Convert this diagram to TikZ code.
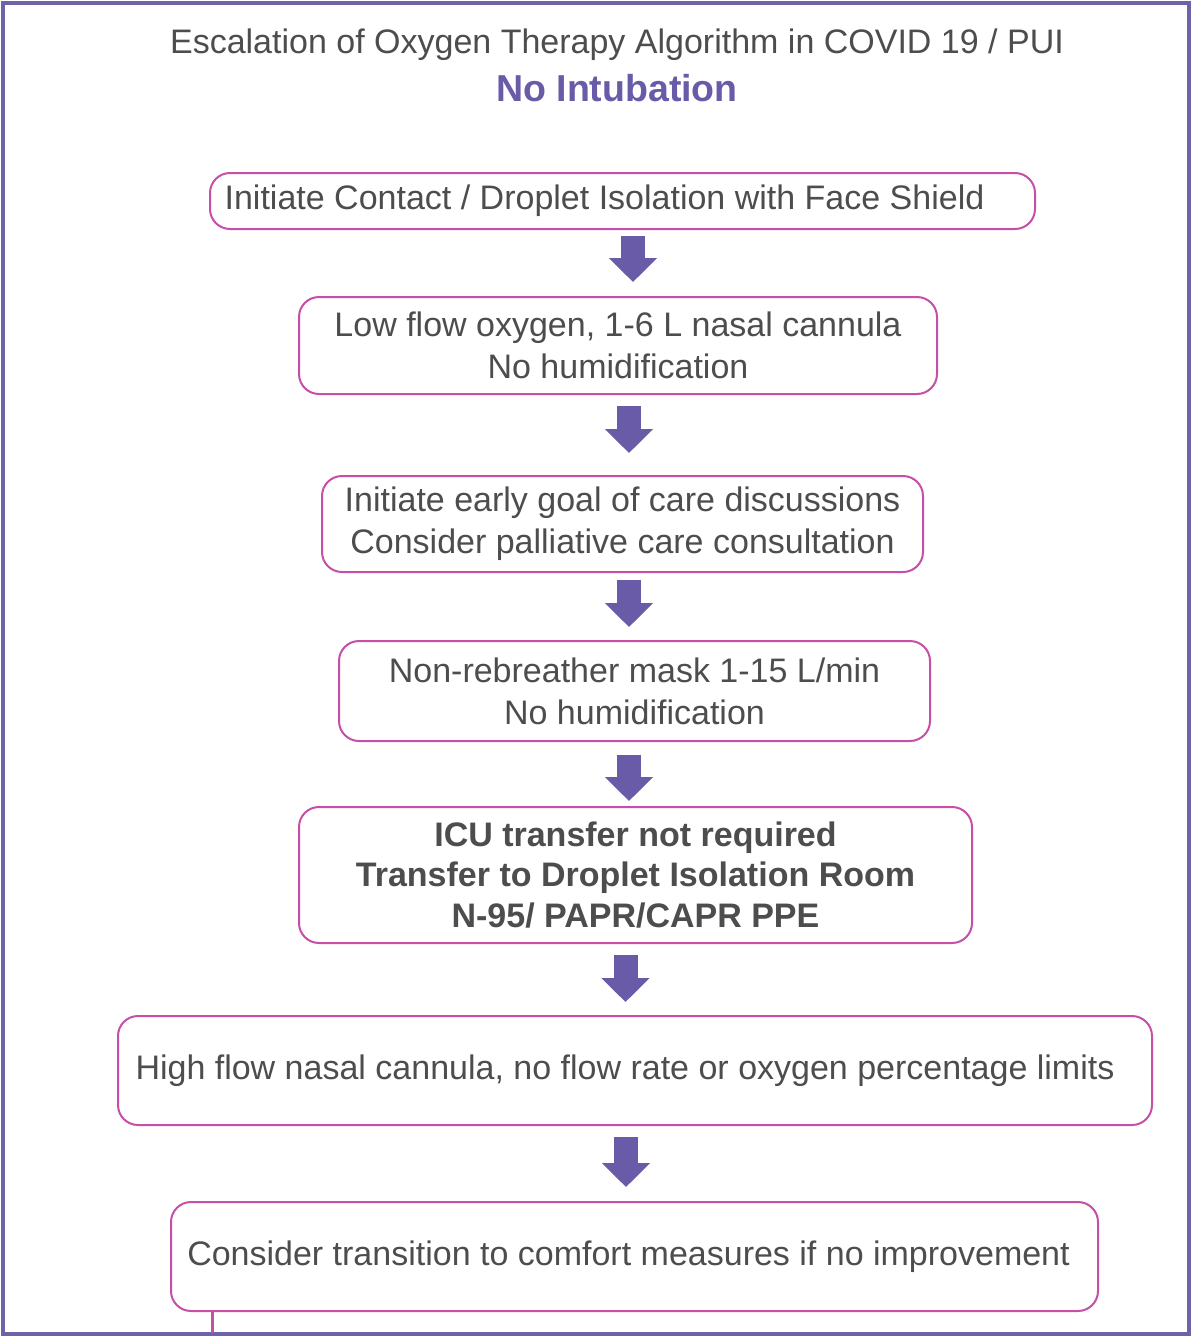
\documentclass[tikz,border=0pt]{standalone}
\usepackage{fontspec}
\setmainfont{Liberation Sans}
\usetikzlibrary{arrows.meta}
\definecolor{txt}{HTML}{4D4D4D}
\definecolor{pinkb}{HTML}{C84FA8}
\definecolor{purp}{HTML}{6A5BA8}
\definecolor{framec}{HTML}{6E63A9}
\begin{document}
\begin{tikzpicture}[x=1pt,y=-1pt,
  box/.style={draw=pinkb, line width=2pt, rounded corners=20pt, inner sep=0pt,
    align=center, text=txt, font=\fontsize{34}{42}\selectfont},
  blk/.style={draw=purp, line width=24pt, -{Triangle[width=47pt,length=24pt]}},
  ttl/.style={inner sep=0pt, text=txt, font=\fontsize{34}{40}\selectfont}]
\useasboundingbox (0,0) rectangle (1191,1336);
\fill[white] (0,0) rectangle (1191,1336);
\draw[framec, line width=4pt] (3,3) rectangle (1189,1334);

\node[ttl] (t1) at (617,45) {Escalation of Oxygen Therapy Algorithm in COVID 19 / PUI};
\node[ttl, text=purp, font=\fontsize{37.5}{40}\selectfont\bfseries] (t2) at (617,88) {No Intubation};

\node[box, minimum width=825pt, minimum height=56pt] (b1) at (622.5,201)
  {Initiate Contact / Droplet Isolation with Face Shield\kern36pt};
\node[box, minimum width=638pt, minimum height=97pt] (b2) at (618,345.5)
  {Low flow oxygen, 1-6 L nasal cannula\\No humidification};
\node[box, minimum width=601pt, minimum height=96pt] (b3) at (622.5,524)
  {Initiate early goal of care discussions\\Consider palliative care consultation};
\node[box, minimum width=591pt, minimum height=100pt] (b4) at (634.5,691)
  {Non-rebreather mask 1-15 L/min\\No humidification};
\node[box, minimum width=673pt, minimum height=136pt, font=\fontsize{34}{40.5}\selectfont\bfseries] (b5) at (635.5,875)
  {ICU transfer not required\\Transfer to Droplet Isolation Room\\N-95/ PAPR/CAPR PPE};
\node[box, minimum width=1034pt, minimum height=109pt] (b6) at (635,1070.5)
  {High flow nasal cannula, no flow rate or oxygen percentage limits\kern20pt};
\node[box, minimum width=927pt, minimum height=109pt] (b7) at (634.5,1256.5)
  {Consider transition to comfort measures if no improvement\kern12pt};

\draw[blk] ([xshift=10.5pt,yshift=-6pt]b1.south) -- ([xshift=10.5pt,yshift=14pt]b1.south |- b2.north);
\draw[blk] ([xshift=11pt,yshift=-11pt]b2.south) -- ([xshift=11pt,yshift=22pt]b2.south |- b3.north);
\draw[blk] ([xshift=6.5pt,yshift=-7pt]b3.south) -- ([xshift=6.5pt,yshift=13pt]b3.south |- b4.north);
\draw[blk] ([xshift=-5.5pt,yshift=-13pt]b4.south) -- ([xshift=-5.5pt,yshift=5pt]b4.south |- b5.north);
\draw[blk] ([xshift=-10pt,yshift=-11pt]b5.south) -- ([xshift=-10pt,yshift=13pt]b5.south |- b6.north);
\draw[blk] ([xshift=-9pt,yshift=-11pt]b6.south) -- ([xshift=-9pt,yshift=14pt]b6.south |- b7.north);

\coordinate (stub) at (212,1333);
\draw[pinkb, line width=3pt] (stub |- b7.south) -- (stub);
\end{tikzpicture}
\end{document}
